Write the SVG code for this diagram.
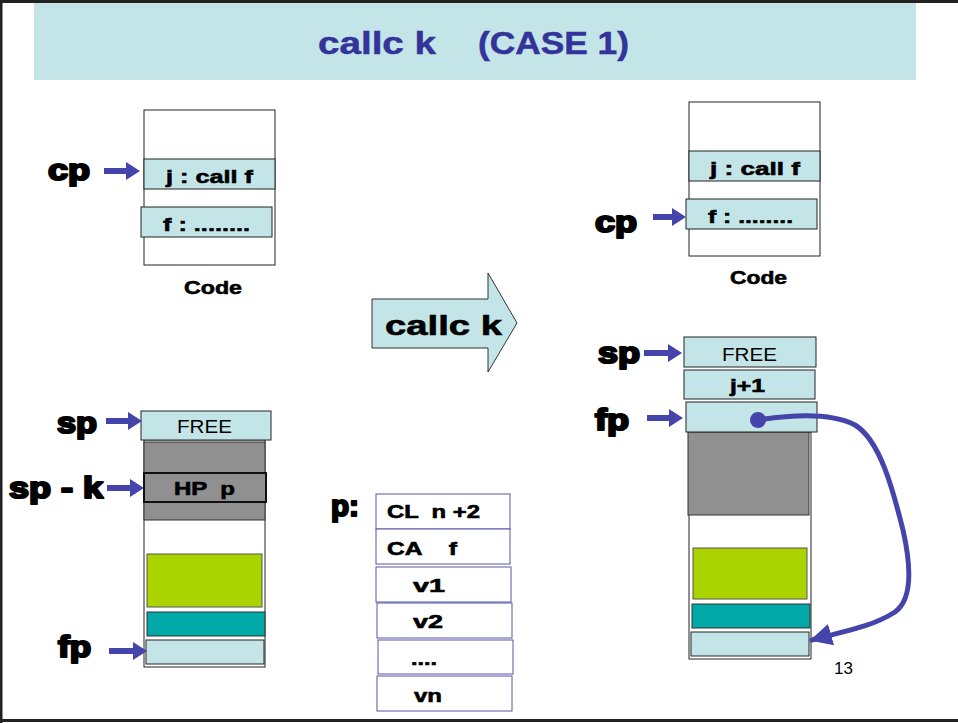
<svg xmlns="http://www.w3.org/2000/svg" width="958" height="723" viewBox="0 0 958 723">
<defs>
<style>
.cy{fill:#c4e5e8;stroke:#222;stroke-width:1}
.wh{fill:#fff;stroke:#222;stroke-width:1}
.gr{fill:#909090;stroke:#333;stroke-width:1}
.lb{font-family:"Liberation Sans",Arial,sans-serif;font-weight:bold;fill:#000;stroke:#000;stroke-width:2.2;stroke-linejoin:round}
.bt{font-family:"Liberation Sans",Arial,sans-serif;font-weight:bold;fill:#000;stroke:#000;stroke-width:0.6;white-space:pre}
.rt{font-family:"Liberation Sans",Arial,sans-serif;fill:#000}
.pt{fill:#fff;stroke:#5555aa;stroke-width:1}
.ar{fill:#4444aa}
</style>
<marker id="ah" viewBox="0 0 10 10" refX="9" refY="5" markerWidth="22" markerHeight="22" markerUnits="userSpaceOnUse" orient="auto">
<path d="M0,0 L10,5 L0,10 Z" fill="#4444aa"/>
</marker>
</defs>
<rect x="0" y="0" width="958" height="723" fill="#fff"/>
<path d="M0,1.5 H958 M1,0 V723 M0,720.5 H958" fill="none" stroke="#222" stroke-width="3"/>

<g id="title">
<rect x="34" y="3" width="882" height="77" fill="#c4e5e8"/>
<text x="318" y="54" font-family="Liberation Sans,Arial,sans-serif" font-weight="bold" font-size="31" fill="#333399" stroke="#333399" stroke-width="0.5" textLength="118" lengthAdjust="spacingAndGlyphs">callc k</text>
<text x="478" y="54" font-family="Liberation Sans,Arial,sans-serif" font-weight="bold" font-size="31" fill="#333399" stroke="#333399" stroke-width="0.5" textLength="151" lengthAdjust="spacingAndGlyphs">(CASE 1)</text>
</g>

<g id="code-left">
<rect class="wh" x="144" y="110" width="131" height="155"/>
<rect class="cy" x="144" y="159" width="131" height="30"/>
<text class="bt" x="166" y="183" font-size="19" textLength="87" lengthAdjust="spacingAndGlyphs">j : call f</text>
<rect class="cy" x="141" y="207" width="131" height="30"/>
<text class="bt" x="163" y="231" font-size="19" textLength="87" lengthAdjust="spacingAndGlyphs">f : ........</text>
<text class="bt" x="184" y="294" font-size="19" textLength="58" lengthAdjust="spacingAndGlyphs">Code</text>
</g>

<g id="code-right">
<rect class="wh" x="689" y="102" width="131" height="154"/>
<rect class="cy" x="689" y="151" width="131" height="30"/>
<text class="bt" x="710" y="175" font-size="19" textLength="90" lengthAdjust="spacingAndGlyphs">j : call f</text>
<rect class="cy" x="686" y="199" width="131" height="30"/>
<text class="bt" x="708" y="223" font-size="19" textLength="85" lengthAdjust="spacingAndGlyphs">f : ........</text>
<text class="bt" x="730" y="284" font-size="19" textLength="57" lengthAdjust="spacingAndGlyphs">Code</text>
</g>

<g id="transition">
<path d="M372,299 H488 V273 L517,323 L488,372 V348 H372 Z" fill="#c4e5e8" stroke="#333" stroke-width="1"/>
<text class="bt" x="385" y="335" font-size="27" stroke-width="1" textLength="117" lengthAdjust="spacingAndGlyphs">callc k</text>
</g>

<g id="stack-left">
<rect class="wh" x="144" y="440" width="121" height="227"/>
<rect class="gr" x="144" y="442" width="121" height="78"/>
<rect x="144" y="473" width="122" height="29" fill="#909090" stroke="#111" stroke-width="2"/>
<text class="bt" x="174" y="495" font-size="18" textLength="61" lengthAdjust="spacingAndGlyphs" xml:space="preserve">HP  p</text>
<rect class="cy" x="141" y="411" width="130" height="29"/>
<text class="rt" x="177" y="433" font-size="19" textLength="55" lengthAdjust="spacingAndGlyphs">FREE</text>
<rect x="147" y="554" width="115" height="53" fill="#aad300" stroke="#555" stroke-width="1"/>
<rect x="147" y="612" width="118" height="24" fill="#00a8a8" stroke="#333" stroke-width="1"/>
<rect class="cy" x="146" y="640" width="118" height="24"/>
</g>

<g id="stack-right">
<rect class="wh" x="689" y="432" width="122" height="227"/>
<rect class="gr" x="688" y="432" width="121" height="83"/>
<rect class="cy" x="684" y="337" width="132" height="30"/>
<text class="rt" x="722" y="361" font-size="19" textLength="55" lengthAdjust="spacingAndGlyphs">FREE</text>
<rect class="cy" x="684" y="370" width="131" height="29"/>
<text class="bt" x="730" y="392" font-size="19" textLength="35" lengthAdjust="spacingAndGlyphs">j+1</text>
<rect class="cy" x="686" y="402" width="131" height="30"/>
<rect x="693" y="548" width="114" height="51" fill="#aad300" stroke="#555" stroke-width="1"/>
<rect x="692" y="604" width="118" height="24" fill="#00a8a8" stroke="#333" stroke-width="1"/>
<rect class="cy" x="691" y="632" width="118" height="24"/>
</g>

<g id="p-table">
<text class="lb" x="331" y="516" font-size="30" textLength="28" lengthAdjust="spacingAndGlyphs">p:</text>
<rect class="pt" x="376" y="494" width="134" height="35"/>
<text class="bt" x="387" y="518" font-size="18" textLength="93" lengthAdjust="spacingAndGlyphs" xml:space="preserve">CL  n +2</text>
<rect class="pt" x="376" y="529" width="134" height="35"/>
<text class="bt" x="387" y="555" font-size="18" textLength="70" lengthAdjust="spacingAndGlyphs" xml:space="preserve">CA    f</text>
<rect class="pt" x="376" y="567" width="135" height="35"/>
<text class="bt" x="413" y="592" font-size="18" textLength="32" lengthAdjust="spacingAndGlyphs">v1</text>
<rect class="pt" x="377" y="603" width="135" height="35"/>
<text class="bt" x="413" y="628" font-size="18" textLength="30" lengthAdjust="spacingAndGlyphs">v2</text>
<rect class="pt" x="378" y="640" width="135" height="34"/>
<text class="bt" x="411" y="665" font-size="18" textLength="26" lengthAdjust="spacingAndGlyphs">....</text>
<rect class="pt" x="377" y="676" width="135" height="35"/>
<text class="bt" x="414" y="702" font-size="18" textLength="28" lengthAdjust="spacingAndGlyphs">vn</text>
</g>

<g id="labels">
<text class="lb" x="48" y="180" font-size="29" textLength="42" lengthAdjust="spacingAndGlyphs">cp</text>
<text class="lb" x="595" y="232" font-size="29" textLength="42" lengthAdjust="spacingAndGlyphs">cp</text>
<text class="lb" x="57" y="433" font-size="29" textLength="40" lengthAdjust="spacingAndGlyphs">sp</text>
<text class="lb" x="9" y="498" font-size="29" textLength="94" lengthAdjust="spacingAndGlyphs" xml:space="preserve">sp - k</text>
<text class="lb" x="58" y="657" font-size="29" textLength="33" lengthAdjust="spacingAndGlyphs">fp</text>
<text class="lb" x="598" y="363" font-size="29" textLength="42" lengthAdjust="spacingAndGlyphs">sp</text>
<text class="lb" x="595" y="430" font-size="29" textLength="34" lengthAdjust="spacingAndGlyphs">fp</text>
<text class="rt" x="834" y="674" font-size="17">13</text>
</g>

<g id="connectors">
<g class="ar">
<path d="M104,168 H126 V162 L140,171 L126,180 V174 H104 Z"/>
<path d="M653,214 H672 V208 L686,217 L672,226 V220 H653 Z"/>
<path d="M106,418 H128 V412 L142,421 L128,430 V424 H106 Z"/>
<path d="M107,485 H130 V479 L144,488 L130,497 V491 H107 Z"/>
<path d="M109,648 H133 V642 L147,651 L133,660 V654 H109 Z"/>
<path d="M644,350 H668 V344 L682,353 L668,362 V356 H644 Z"/>
<path d="M647,415 H669 V409 L683,418 L669,427 V421 H647 Z"/>
</g>
<circle cx="758" cy="420" r="8" fill="#4444aa"/>
<path d="M758,420 C790,415 830,412 855,425 C880,440 893,490 903,530 C912,570 912,600 895,612 C870,628 840,632 812,640" fill="none" stroke="#4444aa" stroke-width="5" stroke-linecap="round" marker-end="url(#ah)"/>
</g>
</svg>
